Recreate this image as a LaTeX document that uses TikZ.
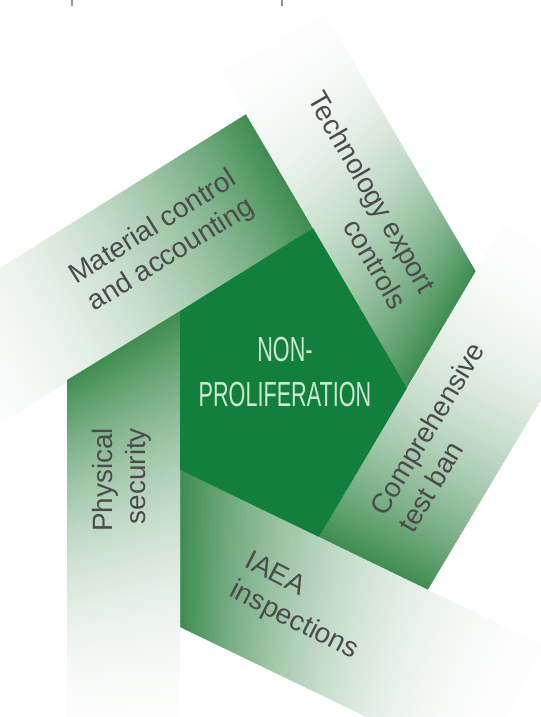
\documentclass[tikz,border=0pt]{standalone}
\usepackage{fontspec}
\usepackage{tikz}
\usetikzlibrary{calc}
\setmainfont{Liberation Sans}
\newfontfamily\condfont[FakeStretch=0.62]{Liberation Sans}

\definecolor{coregreen}{RGB}{18,128,60}
\definecolor{bandgreen}{RGB}{62,140,80}
\definecolor{bandwhite}{RGB}{252,253,252}
\definecolor{labelgray}{RGB}{75,75,75}
\definecolor{mintwhite}{RGB}{205,232,210}

\tikzset{
  bandlabel/.style={text=labelgray, inner sep=0pt,
    font=\fontsize{28}{33}\selectfont},
  corelabel/.style={text=mintwhite, inner sep=0pt, align=center,
    font=\condfont\fontsize{35}{45}\selectfont}
}

% band fading to white: inner start, outer start, inner end, outer end
\newcommand{\fadeband}[4]{%
  \foreach \k in {0,...,79}{%
    \pgfmathsetmacro{\ta}{\k/80}%
    \pgfmathsetmacro{\tb}{(\k+1.5)/80}%
    \pgfmathsetmacro{\bandpc}{100*(1-(\k+0.5)/80)^2}%
    \fill[bandgreen!\bandpc!bandwhite]
      ($(#1)!\ta!(#3)$) -- ($(#1)!\tb!(#3)$) -- ($(#2)!\tb!(#4)$) -- ($(#2)!\ta!(#4)$) -- cycle;
  }%
}

\begin{document}
\begin{tikzpicture}[x=1bp, y=-1bp]
    \useasboundingbox (0,0) rectangle (541,717);

    % Pentagon corners
    \coordinate (A) at (180,311);
    \coordinate (B) at (313,228);
    \coordinate (C) at (407,388);
    \coordinate (D) at (319,537);
    \coordinate (E) at (180,470);

    % Outer corners of the bands
    \coordinate (matout) at (248,113);
    \coordinate (techout) at (476,272);
    \coordinate (compout) at (427,591);
    \coordinate (iaeaout) at (180,627);
    \coordinate (physout) at (67,380);

    % Far ends of the bands
    \coordinate (matfarin) at (-26,440);
    \coordinate (matfarout) at (-91,325);
    \coordinate (techfarin) at (223,75);
    \coordinate (techfarout) at (326,15);
    \coordinate (compfarin) at (502,227);
    \coordinate (compfarout) at (607,289);
    \coordinate (iaeafarin) at (540,644);
    \coordinate (iaeafarout) at (479,771);
    \coordinate (physfarin) at (180,740);
    \coordinate (physfarout) at (67,740);

    % Draw five bands
    \fadeband{B}{matout}{matfarin}{matfarout}
    \fadeband{C}{techout}{techfarin}{techfarout}
    \fadeband{D}{compout}{compfarin}{compfarout}
    \fadeband{E}{iaeaout}{iaeafarin}{iaeafarout}
    \fadeband{A}{physout}{physfarin}{physfarout}

    % Core pentagon
    \fill[coregreen] (A) -- (B) -- (C) -- (D) -- (E) -- cycle;

    % Label bands
    \node[corelabel] (core) at (285,372) {NON-\\PROLIFERATION};
    \node[bandlabel, align=right, rotate=32] (matlabel) at (162,242) {Material control\\and accounting};
    \node[bandlabel, align=right, rotate=-60] (techlabel) at (358,200) {Technology export\\controls};
    \node[bandlabel, align=left, rotate=59] (complabel) at (441,437) {Comprehensive\\test ban};
    \node[bandlabel, align=left, rotate=-27] (iaealabel) at (301,607) {IAEA\\inspections};
    \node[bandlabel, align=right, rotate=90] (physlabel) at (122,480) {Physical\\security};

    % Cut-off marks at the top
    \fill[labelgray!60] (71,0) rectangle (73,6);
    \fill[labelgray!60] (281,0) rectangle (283,6);
\end{tikzpicture}
\end{document}
